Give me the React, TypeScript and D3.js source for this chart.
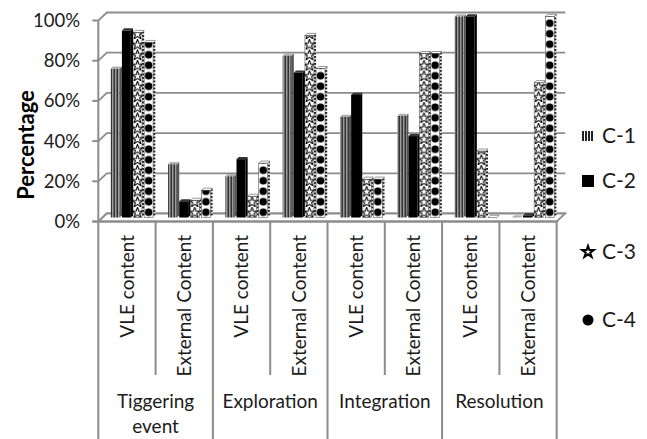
import { useEffect, useRef } from "react";
import * as d3 from "d3";

// phases and content sources (two bars groups per phase)
const phases = ["Tiggering event", "Exploration", "Integration", "Resolution"];
const sources = ["VLE content", "External Content"];
const seriesNames = ["C-1", "C-2", "C-3", "C-4"];

// percentages, one value per phase/source pair
const c1 = [74, 26.5, 20.5, 80.5, 50, 50.5, 100, 0];
const c2 = [93, 8, 29, 72, 61, 40.5, 100, 1];
const c3 = [92, 8.5, 10.5, 90.5, 19, 81.5, 33, 67];
const c4 = [87, 13.5, 27, 74, 19, 81.5, 0, 100];
const seriesValues = [c1, c2, c3, c4];

const yTicks = [0, 20, 40, 60, 80, 100];

const W = 647;
const H = 439;
const FONT = "Lato, 'Open Sans', sans-serif";
const TEXT = "#1b1b1b";
const GRID = "#8c8c8c";

const App = () => {
  const svgRef = useRef(null);

  useEffect(() => {
    const svg = d3.select(svgRef.current);
    svg.selectAll("*").remove();

    const left = 98.3;
    const right = 556.7;
    const dx = 8.5; // 3d depth
    const dy = -8;

    const cats = d3.range(phases.length * sources.length);
    const x = d3.scaleBand().domain(cats).range([left, right]);
    const bw = x.bandwidth();
    const y = d3.scaleLinear().domain([0, 100]).range([221.5, 20.5]);
    const yBar = (v) => y(v) + dy / 2;
    const xSub = d3.scaleBand().domain(seriesNames).range([12.5, 57]);
    const sd = 2.2; // bar side depth
    const fw = xSub.bandwidth() - sd;

    const defs = svg.append("defs");

    // C-1 vertical stripes
    const stripe = defs
      .append("pattern")
      .attr("id", "stripe")
      .attr("patternUnits", "userSpaceOnUse")
      .attr("width", 3)
      .attr("height", 10);
    stripe.append("rect").attr("width", 3).attr("height", 10).attr("fill", "#9c9c9c");
    stripe.append("rect").attr("width", 1).attr("height", 10).attr("fill", "#333");
    stripe.append("rect").attr("x", 2).attr("width", 1).attr("height", 10).attr("fill", "#666");

    const legendStripe = defs
      .append("pattern")
      .attr("id", "legendStripe")
      .attr("patternUnits", "userSpaceOnUse")
      .attr("width", 3)
      .attr("height", 10);
    legendStripe.append("rect").attr("width", 3).attr("height", 10).attr("fill", "#fff");
    legendStripe.append("rect").attr("width", 2).attr("height", 10).attr("fill", "#222");

    // dotted side face
    const sideDots = defs
      .append("pattern")
      .attr("id", "sideDots")
      .attr("patternUnits", "userSpaceOnUse")
      .attr("width", 4)
      .attr("height", 3.5);
    sideDots.append("rect").attr("width", 4).attr("height", 3.5).attr("fill", "#fff");
    sideDots.append("rect").attr("width", 4).attr("height", 2).attr("fill", "#222");

    const starPath = d3.symbol(d3.symbolStar, 36)();
    const legendStar = d3.symbol(d3.symbolStar, 42)();

    const base = yBar(0);
    const tileH = 10.5;

    // back wall gridlines
    const g = svg.append("g");
    yTicks.forEach((v) => {
      g.append("path")
        .attr("d", `M${left},${y(v)} L${left + dx},${y(v) + dy} L${right + dx},${y(v) + dy}`)
        .attr("fill", "none")
        .attr("stroke", GRID)
        .attr("stroke-width", 1.8);
    });

    // floor
    g.append("path")
      .attr(
        "d",
        `M${left},${y(0)} L${right},${y(0)} L${right + dx},${y(0) + dy} L${left + dx},${y(0) + dy} Z`
      )
      .attr("fill", "#fff")
      .attr("stroke", GRID)
      .attr("stroke-width", 1.8);

    // value axis
    g.append("line")
      .attr("x1", left)
      .attr("x2", left)
      .attr("y1", y(100))
      .attr("y2", y(0))
      .attr("stroke", GRID)
      .attr("stroke-width", 2);
    yTicks.forEach((v) => {
      g.append("line")
        .attr("x1", left - 6)
        .attr("x2", left)
        .attr("y1", y(v))
        .attr("y2", y(v))
        .attr("stroke", GRID)
        .attr("stroke-width", 2);
      g.append("text")
        .attr("x", 80)
        .attr("y", y(v))
        .attr("dy", "0.35em")
        .attr("text-anchor", "end")
        .attr("font-family", FONT)
        .attr("font-size", 18.5)
        .attr("fill", TEXT)
        .text(`${v}%`);
    });

    // bars
    const bars = svg.append("g");
    cats.forEach((c) => {
      seriesNames.forEach((s, j) => {
        const v = seriesValues[j][c];
        const bx = x(c) + xSub(s);
        const yt = yBar(v);
        let front = "#000";
        let side = "#000";
        let top = "#333";
        let stroke = "none";
        if (j === 0) {
          front = "url(#stripe)";
          side = "#555";
          top = "#b0b0b0";
        } else if (j >= 2) {
          const pid = `pat-${c}-${j}`;
          const p = defs
            .append("pattern")
            .attr("id", pid)
            .attr("patternUnits", "userSpaceOnUse")
            .attr("x", bx)
            .attr("y", base)
            .attr("width", fw)
            .attr("height", tileH);
          p.append("rect").attr("width", fw).attr("height", tileH).attr("fill", "#fff");
          if (j === 2) {
            p.append("path")
              .attr("d", starPath)
              .attr("transform", `translate(${fw / 2},${tileH / 2 + 0.5})`)
              .attr("fill", "#fff")
              .attr("stroke", "#000")
              .attr("stroke-width", 1);
          } else {
            p.append("circle")
              .attr("cx", fw / 2)
              .attr("cy", tileH / 2)
              .attr("r", 3.8)
              .attr("fill", "#000");
          }
          front = `url(#${pid})`;
          side = "url(#sideDots)";
          top = "#fff";
          stroke = "#333";
        }
        bars
          .append("path")
          .attr("d", `M${bx + fw},${yt} L${bx + fw + sd},${yt - sd} L${bx + fw + sd},${base - sd} L${bx + fw},${base} Z`)
          .attr("fill", side);
        bars
          .append("path")
          .attr("d", `M${bx},${yt} L${bx + fw},${yt} L${bx + fw + sd},${yt - sd} L${bx + sd},${yt - sd} Z`)
          .attr("fill", top)
          .attr("stroke", stroke)
          .attr("stroke-width", 0.5);
        bars
          .append("rect")
          .attr("x", bx)
          .attr("y", yt)
          .attr("width", fw)
          .attr("height", Math.max(0, base - yt))
          .attr("fill", front)
          .attr("stroke", stroke)
          .attr("stroke-width", 0.5);
      });
    });

    // category axis (multi level)
    const axis = svg.append("g");
    axis
      .append("line")
      .attr("x1", left - 6)
      .attr("x2", right)
      .attr("y1", y(0))
      .attr("y2", y(0))
      .attr("stroke", GRID)
      .attr("stroke-width", 2);
    d3.range(cats.length + 1).forEach((i) => {
      const xx = left + i * bw;
      axis
        .append("line")
        .attr("x1", xx)
        .attr("x2", xx)
        .attr("y1", y(0))
        .attr("y2", i % 2 === 0 ? H : 375)
        .attr("stroke", GRID)
        .attr("stroke-width", 2);
    });
    cats.forEach((c) => {
      const cx = x(c) + bw / 2;
      axis
        .append("text")
        .attr("transform", `translate(${cx},235) rotate(-90)`)
        .attr("text-anchor", "end")
        .attr("dy", "0.35em")
        .attr("font-family", FONT)
        .attr("font-size", 19)
        .attr("fill", TEXT)
        .text(sources[c % 2]);
    });
    phases.forEach((p, i) => {
      const cx = left + (i * 2 + 1) * bw;
      const words = p.split(" ");
      const t = axis
        .append("text")
        .attr("text-anchor", "middle")
        .attr("font-family", FONT)
        .attr("font-size", 19)
        .attr("fill", TEXT);
      t.append("tspan").attr("x", cx).attr("y", 408).text(p);
      // wrap when the label is wider than its group
      if (t.node().getComputedTextLength() > bw * 2 - 8 && words.length > 1) {
        t.selectAll("*").remove();
        words.forEach((w, k) => {
          t.append("tspan").attr("x", cx).attr("y", 408 + k * 25).text(w);
        });
      }
    });

    // axis title
    svg
      .append("text")
      .attr("transform", "translate(26,145) rotate(-90)")
      .attr("text-anchor", "middle")
      .attr("dy", "0.35em")
      .attr("font-family", FONT)
      .attr("font-weight", "bold")
      .attr("font-size", 22)
      .attr("fill", "#000")
      .text("Percentage");

    // legend
    const legendY = [136, 181, 252, 320];
    const lg = svg.append("g");
    seriesNames.forEach((s, j) => {
      const ly = legendY[j];
      if (j === 0) {
        lg.append("rect").attr("x", 582).attr("y", ly - 5).attr("width", 11).attr("height", 10).attr("fill", "url(#legendStripe)");
      } else if (j === 1) {
        lg.append("rect").attr("x", 582).attr("y", ly - 6).attr("width", 12).attr("height", 12).attr("fill", "#000");
      } else if (j === 2) {
        lg.append("path")
          .attr("d", legendStar)
          .attr("transform", `translate(588,${ly})`)
          .attr("fill", "#fff")
          .attr("stroke", "#000")
          .attr("stroke-width", 2);
      } else {
        lg.append("circle").attr("cx", 588).attr("cy", ly).attr("r", 5.5).attr("fill", "#000");
      }
      lg.append("text")
        .attr("x", 602)
        .attr("y", ly)
        .attr("dy", "0.35em")
        .attr("font-family", FONT)
        .attr("font-size", 21)
        .attr("fill", TEXT)
        .text(s);
    });
  }, []);

  return (
    <svg
      ref={svgRef}
      width={W}
      height={H}
      style={{ position: "absolute", left: 0, top: 0, background: "#fff" }}
    ></svg>
  );
};

export default App;
